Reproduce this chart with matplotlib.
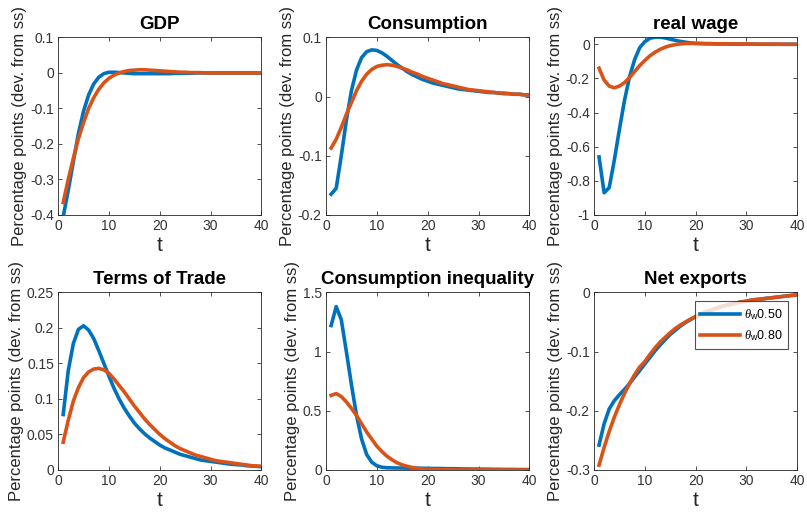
import matplotlib
matplotlib.use('Agg')
import matplotlib.pyplot as plt
from matplotlib.ticker import FuncFormatter
import numpy as np

plt.rcParams['font.family'] = ['Liberation Sans', 'DejaVu Sans']
plt.rcParams['axes.unicode_minus'] = False
plt.rcParams['mathtext.fontset'] = 'custom'
plt.rcParams['mathtext.it'] = 'Liberation Serif:italic'
plt.rcParams['mathtext.rm'] = 'Liberation Sans'

t = np.arange(1, 41)

gdp_050 = [-0.405, -0.33, -0.25, -0.17, -0.108, -0.062, -0.031, -0.012, -0.002, 0.002,
           0.002, 0.001, 0.0, -0.001, -0.002, -0.002, -0.002, -0.002, -0.002, -0.002,
           -0.002, -0.002, -0.001, -0.001, -0.001, -0.001, 0.0, 0.0, 0.0, 0.0,
           0.0, 0.0, 0.0, 0.0, 0.0, 0.0, 0.0, 0.0, 0.0, 0.0]
gdp_080 = [-0.365, -0.30, -0.24, -0.185, -0.14, -0.10, -0.07, -0.046, -0.028, -0.015,
           -0.006, 0.0, 0.004, 0.007, 0.008, 0.009, 0.009, 0.008, 0.007, 0.006,
           0.005, 0.004, 0.003, 0.002, 0.002, 0.001, 0.001, 0.001, 0.0, 0.0,
           0.0, 0.0, 0.0, 0.0, 0.0, 0.0, 0.0, 0.0, 0.0, 0.0]

cons_050 = [-0.165, -0.155, -0.10, -0.04, 0.01, 0.045, 0.066, 0.076, 0.079, 0.078,
            0.074, 0.068, 0.061, 0.054, 0.048, 0.042, 0.037, 0.033, 0.029, 0.026,
            0.023, 0.021, 0.019, 0.017, 0.015, 0.013, 0.012, 0.011, 0.010, 0.009,
            0.008, 0.007, 0.007, 0.006, 0.005, 0.005, 0.004, 0.004, 0.003, 0.003]
cons_080 = [-0.087, -0.072, -0.052, -0.030, -0.010, 0.010, 0.026, 0.038, 0.046, 0.051,
            0.053, 0.054, 0.053, 0.051, 0.048, 0.045, 0.041, 0.038, 0.034, 0.031,
            0.028, 0.025, 0.022, 0.020, 0.018, 0.016, 0.014, 0.012, 0.011, 0.010,
            0.009, 0.008, 0.007, 0.006, 0.006, 0.005, 0.004, 0.004, 0.003, 0.003]

wage_050 = [-0.66, -0.87, -0.84, -0.68, -0.50, -0.33, -0.19, -0.09, -0.02, 0.015,
            0.035, 0.042, 0.042, 0.037, 0.030, 0.023, 0.017, 0.012, 0.008, 0.005,
            0.004, 0.003, 0.003, 0.002, 0.002, 0.002, 0.001, 0.001, 0.001, 0.001,
            0.001, 0.0, 0.0, 0.0, 0.0, 0.0, 0.0, 0.0, 0.0, 0.0]
wage_080 = [-0.14, -0.21, -0.245, -0.255, -0.245, -0.225, -0.195, -0.16, -0.125, -0.095,
            -0.068, -0.047, -0.030, -0.017, -0.008, -0.002, 0.002, 0.004, 0.005, 0.005,
            0.005, 0.004, 0.004, 0.003, 0.003, 0.003, 0.002, 0.002, 0.002, 0.002,
            0.001, 0.001, 0.001, 0.001, 0.001, 0.001, 0.0, 0.0, 0.0, 0.0]

tot_050 = [0.078, 0.14, 0.178, 0.198, 0.203, 0.197, 0.185, 0.168, 0.150, 0.132,
           0.115, 0.100, 0.087, 0.076, 0.066, 0.058, 0.051, 0.045, 0.040, 0.035,
           0.031, 0.028, 0.025, 0.022, 0.020, 0.018, 0.016, 0.014, 0.013, 0.012,
           0.011, 0.010, 0.009, 0.008, 0.0075, 0.007, 0.006, 0.0055, 0.005, 0.0045]
tot_080 = [0.039, 0.07, 0.097, 0.116, 0.130, 0.138, 0.142, 0.143, 0.141, 0.136,
           0.128, 0.119, 0.110, 0.100, 0.090, 0.081, 0.072, 0.064, 0.057, 0.050,
           0.044, 0.039, 0.034, 0.030, 0.027, 0.024, 0.021, 0.019, 0.017, 0.015,
           0.013, 0.012, 0.011, 0.010, 0.009, 0.008, 0.007, 0.006, 0.0055, 0.005]

ineq_050 = [1.22, 1.38, 1.27, 1.0, 0.72, 0.46, 0.26, 0.13, 0.065, 0.035,
            0.022, 0.018, 0.017, 0.016, 0.016, 0.015, 0.015, 0.014, 0.014, 0.013,
            0.012, 0.012, 0.011, 0.010, 0.010, 0.009, 0.008, 0.008, 0.007, 0.007,
            0.006, 0.006, 0.005, 0.005, 0.004, 0.004, 0.004, 0.003, 0.003, 0.003]
ineq_080 = [0.63, 0.645, 0.62, 0.575, 0.52, 0.46, 0.39, 0.32, 0.26, 0.20,
            0.155, 0.115, 0.085, 0.06, 0.042, 0.03, 0.02, 0.013, 0.008, 0.005,
            0.003, 0.002, 0.001, 0.001, 0.0, 0.0, 0.0, 0.0, 0.0, 0.0,
            0.0, 0.0, 0.0, 0.0, 0.0, 0.0, 0.0, 0.0, 0.0, 0.0]

nx_050 = [-0.258, -0.222, -0.197, -0.183, -0.173, -0.164, -0.154, -0.143, -0.132, -0.121,
          -0.110, -0.099, -0.089, -0.080, -0.071, -0.064, -0.057, -0.051, -0.046, -0.041,
          -0.037, -0.033, -0.030, -0.027, -0.024, -0.022, -0.020, -0.018, -0.016, -0.015,
          -0.013, -0.012, -0.011, -0.010, -0.009, -0.008, -0.007, -0.006, -0.005, -0.004]
nx_080 = [-0.292, -0.262, -0.235, -0.211, -0.190, -0.171, -0.154, -0.139, -0.126, -0.117,
          -0.105, -0.094, -0.084, -0.076, -0.068, -0.061, -0.055, -0.050, -0.045, -0.041,
          -0.037, -0.033, -0.030, -0.027, -0.024, -0.022, -0.020, -0.018, -0.016, -0.015,
          -0.013, -0.012, -0.011, -0.010, -0.009, -0.008, -0.007, -0.006, -0.005, -0.004]

titles = ['GDP', 'Consumption', 'real wage', 'Terms of Trade', 'Consumption inequality', 'Net exports']
series = [(gdp_050, gdp_080), (cons_050, cons_080), (wage_050, wage_080),
          (tot_050, tot_080), (ineq_050, ineq_080), (nx_050, nx_080)]
ylims = [(-0.4, 0.1), (-0.2, 0.1), (-1, 0.04), (0, 0.25), (0, 1.5), (-0.3, 0)]
yticks = [np.arange(-0.4, 0.11, 0.1), np.arange(-0.2, 0.11, 0.1), np.arange(-1, 0.01, 0.2),
          np.arange(0, 0.26, 0.05), np.arange(0, 1.51, 0.5), np.arange(-0.3, 0.01, 0.1)]
labels = [r'$\theta_{\mathrm{w}}$0.50', r'$\theta_{\mathrm{w}}$0.80']

blue = '#0072BD'
orange = '#D95319'


def fmt(v, p):
    v = round(v, 3) + 0.0
    if abs(v) < 1e-9:
        return '0'
    return '%g' % v


fig = plt.figure(figsize=(8.07, 5.13), dpi=100)
lefts = [0.072, 0.404, 0.736]
bottoms = [0.581, 0.084]

for i in range(6):
    ax = fig.add_axes([lefts[i % 3], bottoms[i // 3], 0.252, 0.346])
    y1, y2 = series[i]
    ax.plot(t, y1, color=blue, lw=2.6, label=labels[0])
    ax.plot(t, y2, color=orange, lw=2.6, label=labels[1])
    ax.set_xlim(0, 40)
    ax.set_ylim(*ylims[i])
    ax.set_xticks([0, 10, 20, 30, 40])
    ax.set_yticks(yticks[i])
    ax.yaxis.set_major_formatter(FuncFormatter(fmt))
    ax.tick_params(direction='in', top=True, right=True, length=3, width=0.6,
                   labelsize=10, colors='#333333', pad=3)
    for s in ax.spines.values():
        s.set_color('#262626')
        s.set_linewidth(0.6)
    ax.set_title(titles[i], fontsize=13.5, fontweight='bold', pad=6)
    ax.set_xlabel('t', fontsize=15, color='#262626', labelpad=2)
    ax.set_ylabel('Percentage points (dev. from ss)', fontsize=12, color='#262626', labelpad=2)
    if i == 5:
        leg = ax.legend(loc='upper right', fontsize=9, frameon=True, fancybox=False,
                        handlelength=3.2, handletextpad=0.3, borderpad=0.45,
                        labelspacing=0.55, borderaxespad=0.0,
                        bbox_to_anchor=(0.955, 0.95))
        leg.get_frame().set_edgecolor('#262626')
        leg.get_frame().set_linewidth(0.8)

fig.savefig('out.png', dpi=100)
